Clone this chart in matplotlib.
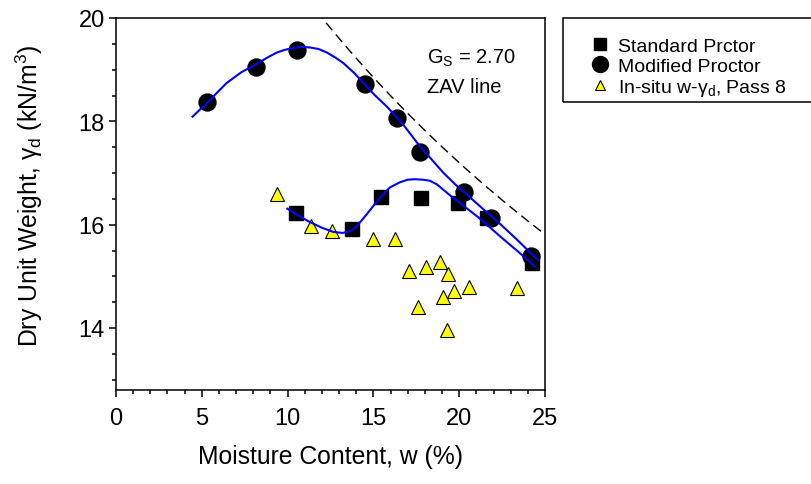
import numpy as np
import matplotlib
matplotlib.use("Agg")
import matplotlib.pyplot as plt
from matplotlib.lines import Line2D
from matplotlib.patches import Rectangle

plt.rcParams["font.family"] = ["Liberation Sans", "DejaVu Sans"]
plt.rcParams["mathtext.fontset"] = "custom"
plt.rcParams["mathtext.rm"] = "Liberation Sans"
plt.rcParams["mathtext.it"] = "Liberation Sans:italic"

# compaction test points
w_std = [10.48, 13.78, 15.47, 17.76, 19.95, 21.62, 24.25]
g_std = [16.23, 15.92, 16.53, 16.51, 16.42, 16.12, 15.25]

w_mod = [5.31, 8.13, 10.52, 14.5, 16.38, 17.70, 20.27, 21.88, 24.21]
g_mod = [18.38, 19.05, 19.38, 18.73, 18.06, 17.40, 16.64, 16.12, 15.40]

# field measurements
w_field = [9.4, 11.36, 12.58, 14.99, 16.26, 17.08, 18.09, 18.87, 19.36,
           19.69, 19.06, 20.56, 17.59, 19.3, 23.37]
g_field = [16.6, 15.97, 15.87, 15.72, 15.72, 15.10, 15.19, 15.28, 15.04,
           14.71, 14.60, 14.79, 14.40, 13.97, 14.77]

# fitted compaction curves
w_fit_mod = [4.46, 5.31, 6.44, 7.3, 8.14, 8.8, 9.36, 9.8, 10.3, 10.81, 11.3, 11.8,
             12.3, 12.8, 13.24, 13.9, 14.50, 15.1, 15.77, 16.73, 17.70, 18.4,
             19.06, 19.8, 20.62, 21.4, 22.27, 23.4, 24.6]
g_fit_mod = [18.09, 18.36, 18.74, 18.95, 19.10, 19.23, 19.33, 19.38, 19.42, 19.44,
             19.43, 19.40, 19.33, 19.23, 19.13, 18.93, 18.71, 18.50, 18.29, 17.94,
             17.52, 17.26, 17.01, 16.77, 16.53, 16.30, 16.05, 15.70, 15.31]

w_fit_std = [9.98, 10.6, 11.30, 12.0, 12.66, 13.2, 13.63, 14.0, 14.41, 14.8,
             15.18, 15.6, 15.96, 16.54, 17.0, 17.41, 17.9, 18.29, 18.7, 19.06,
             19.6, 20.23, 21.2, 22.5, 23.5, 24.4]
g_fit_std = [16.31, 16.18, 16.05, 15.94, 15.86, 15.84, 15.87, 15.96, 16.12, 16.28,
             16.44, 16.60, 16.72, 16.82, 16.87, 16.88, 16.87, 16.85, 16.78, 16.68,
             16.53, 16.37, 16.12, 15.74, 15.46, 15.19]

Gs = 2.70
gamma_w = 9.81

fig = plt.figure(figsize=(8.11, 4.85), dpi=100)
ax = fig.add_axes([116 / 811, 94 / 485, 429 / 811, 372 / 485])

ax.plot(w_std, g_std, ls="none", marker="s", ms=10, mfc="black", mec="black")
ax.plot(w_mod, g_mod, ls="none", marker="o", ms=12.2, mfc="black", mec="black")
ax.plot(w_field, g_field, ls="none", marker="^", ms=9.4, mfc="#ffff00",
        mec="black", mew=0.8)

ax.plot(w_fit_mod, g_fit_mod, color="#0000ff", lw=1.5)
ax.plot(w_fit_std, g_fit_std, color="#0000ff", lw=1.5)

# zero air voids line
w_zav = np.linspace(10, 25, 100)
g_zav = Gs * gamma_w / (1 + w_zav / 100 * Gs)
ax.plot(w_zav, g_zav, color="black", lw=1.0, ls=(0, (7, 4)))

ax.text(18.1, 19.14, r"G$_\mathregular{S}$ = 2.70", fontsize=14.5)
ax.text(18.1, 18.57, "ZAV line", fontsize=14.5)

ax.set_xlim(0, 25)
ax.set_ylim(12.8, 20)
ax.set_xticks([0, 5, 10, 15, 20, 25])
ax.set_xticks(np.arange(0, 26, 1), minor=True)
ax.set_yticks([14, 16, 18, 20])
ax.set_yticks(np.arange(13, 20.1, 0.5), minor=True)
ax.tick_params(which="major", direction="out", length=5, width=1.1, labelsize=17)
ax.tick_params(axis="x", which="major", pad=7)
ax.tick_params(axis="y", which="major", pad=3)
ax.tick_params(which="minor", direction="out", length=3, width=1.1)
for s in ax.spines.values():
    s.set_linewidth(1.1)

ax.set_xlabel("Moisture Content, w (%)", fontsize=17.8, labelpad=11)
ax.set_ylabel(r"Dry Unit Weight, $\mathregular{\gamma_d}$ (kN/m$^\mathregular{3}$)",
              fontsize=17.8)
ax.yaxis.set_label_coords(-0.165, 0.525)

# legend with a box running off the right edge
fig.patches.append(Rectangle((563 / 811, 382 / 485), 0.4, 84 / 485,
                             transform=fig.transFigure, fill=False,
                             edgecolor="black", lw=1.1))
handles = [
    Line2D([], [], ls="none", marker="s", ms=9, mfc="black", mec="black"),
    Line2D([], [], ls="none", marker="o", ms=11.5, mfc="black", mec="black"),
    Line2D([], [], ls="none", marker="^", ms=7, mfc="#ffff00", mec="black", mew=0.8),
]
labels = ["Standard Prctor", "Modified Proctor",
          r"In-situ w-$\mathregular{\gamma_d}$, Pass 8"]
fig.legend(handles, labels, loc="upper left", bbox_to_anchor=(590 / 811, 1 - 38 / 485),
           frameon=False, fontsize=14, handlelength=1.0, handletextpad=0.45,
           labelspacing=0.12, borderpad=0, borderaxespad=0)

fig.savefig("out.png", dpi=100)
